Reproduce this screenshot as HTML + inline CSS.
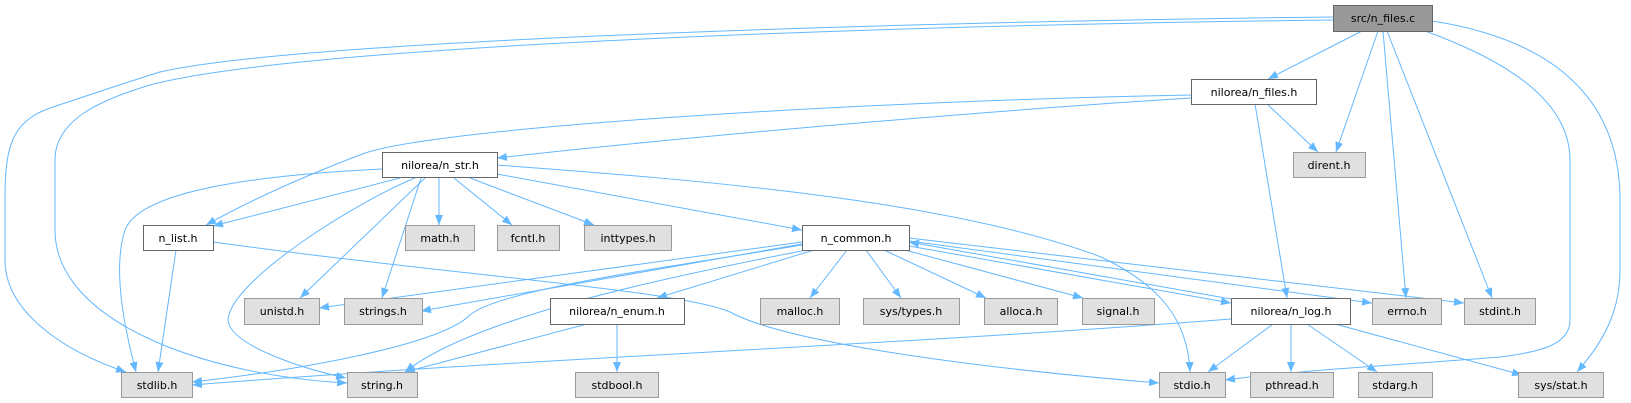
<!DOCTYPE html>
<html><head><meta charset="utf-8"><style>
html,body{margin:0;padding:0;background:#fff;}
svg{display:block;}
text{font-family:"DejaVu Sans","Liberation Sans",sans-serif;font-size:11px;fill:#000;text-anchor:middle;}
.w{fill:#fff;stroke:#666;stroke-width:1;}
.g{fill:#e0e0e0;stroke:#999;stroke-width:1;}
.r{fill:#999;stroke:#666;stroke-width:1;}
.e{fill:none;stroke:#63b8ff;stroke-width:1;marker-end:url(#a);}
</style></head><body>
<svg width="1631" height="403" viewBox="0 0 1631 403" xmlns="http://www.w3.org/2000/svg">
<defs><marker id="a" markerUnits="userSpaceOnUse" markerWidth="12" markerHeight="10" refX="10" refY="4" orient="auto"><path d="M0,0 L10,4 L0,8 z" fill="#63b8ff"/></marker></defs>
<!-- edges from src/n_files.c -->
<path class="e" d="M1333,17 C900,22 300,40 160,72 C140,78 110,88 50,108 C10,122 5,150 5,200 L5,260 C5,310 60,350 126,372"/>
<path class="e" d="M1333,20 C900,25 300,45 150,85 C100,100 55,120 55,160 L55,230 C55,320 200,375 347,383"/>
<path class="e" d="M1362,31 L1268,79"/>
<path class="e" d="M1378,31 L1336,152"/>
<path class="e" d="M1383,31 L1406,298"/>
<path class="e" d="M1387,31 L1492,298"/>
<path class="e" d="M1425,31 C1505,60 1570,100 1570,160 L1570,320 C1570,345 1540,352 1500,357 C1400,365 1300,370 1225,380"/>
<path class="e" d="M1432,21 C1555,40 1620,100 1620,200 L1620,270 C1620,310 1605,340 1577,372"/>
<!-- n_files.h -->
<path class="e" d="M1191,95 C900,100 450,125 365,153 C320,170 260,195 206,225"/>
<path class="e" d="M1191,98 C1000,110 700,135 497,158"/>
<path class="e" d="M1267,104 L1318,152"/>
<path class="e" d="M1255,104 L1287,298"/>
<!-- n_str.h -->
<path class="e" d="M382,169 C260,175 140,190 125,230 C112,270 125,330 136,372"/>
<path class="e" d="M400,178 L213,226"/>
<path class="e" d="M425,178 L300,298"/>
<path class="e" d="M415,178 C360,200 230,280 228,320 C230,345 300,368 346,378"/>
<path class="e" d="M421,178 L382,298"/>
<path class="e" d="M439,178 L439,225"/>
<path class="e" d="M454,178 L512,225"/>
<path class="e" d="M470,178 L594,225"/>
<path class="e" d="M497,174 L802,230"/>
<path class="e" d="M497,165 C700,180 950,200 1101,257 C1160,285 1188,320 1190,372"/>
<!-- n_list.h -->
<path class="e" d="M213,242 C450,275 680,290 730,312 C790,345 1000,370 1159,383"/>
<path class="e" d="M176,250 L158,372"/>
<!-- n_common.h -->
<path class="e" d="M802,242 L319,308"/>
<path class="e" d="M802,244 L421,311"/>
<path class="e" d="M802,245 C650,270 500,290 470,315 C440,345 300,370 192,382"/>
<path class="e" d="M807,250 C650,280 470,320 405,372"/>
<path class="e" d="M814,250 L657,298"/>
<path class="e" d="M847,250 L810,298"/>
<path class="e" d="M866,250 L901,298"/>
<path class="e" d="M884,250 L986,298"/>
<path class="e" d="M905,250 L1083,298"/>
<path class="e" d="M909,246 L1231,303"/>
<path class="e" d="M909,241 L1372,303"/>
<path class="e" d="M909,238 L1464,303"/>
<!-- n_log.h -->
<path class="e" d="M1231,299 L909,242"/>
<path class="e" d="M1231,319 C900,345 500,360 192,385"/>
<path class="e" d="M1273,324 L1208,372"/>
<path class="e" d="M1291,324 L1291,372"/>
<path class="e" d="M1307,324 L1377,372"/>
<path class="e" d="M1335,324 L1522,375"/>
<!-- n_enum.h -->
<path class="e" d="M587,324 L405,372"/>
<path class="e" d="M617,324 L617,372"/>

<!-- nodes -->
<rect class="r" x="1333.5" y="5.5" width="99" height="26"/><text x="1383" y="22">src/n_files.c</text>
<rect class="w" x="1191.5" y="79.5" width="125" height="25"/><text x="1254" y="96">nilorea/n_files.h</text>
<rect class="g" x="1293.5" y="152.5" width="72" height="25"/><text x="1329" y="169">dirent.h</text>
<rect class="w" x="382.5" y="152.5" width="115" height="25"/><text x="440" y="169">nilorea/n_str.h</text>
<rect class="w" x="143.5" y="225.5" width="70" height="25"/><text x="178" y="242">n_list.h</text>
<rect class="g" x="405.5" y="225.5" width="69" height="25"/><text x="440" y="242">math.h</text>
<rect class="g" x="497.5" y="225.5" width="62" height="25"/><text x="528" y="242">fcntl.h</text>
<rect class="g" x="584.5" y="225.5" width="87" height="25"/><text x="628" y="242">inttypes.h</text>
<rect class="w" x="802.5" y="225.5" width="107" height="25"/><text x="856" y="242">n_common.h</text>
<rect class="g" x="244.5" y="298.5" width="75" height="26"/><text x="282" y="315">unistd.h</text>
<rect class="g" x="344.5" y="298.5" width="78" height="26"/><text x="383" y="315">strings.h</text>
<rect class="w" x="550.5" y="298.5" width="134" height="26"/><text x="617" y="315">nilorea/n_enum.h</text>
<rect class="g" x="760.5" y="298.5" width="79" height="26"/><text x="800" y="315">malloc.h</text>
<rect class="g" x="863.5" y="298.5" width="96" height="26"/><text x="911" y="315">sys/types.h</text>
<rect class="g" x="984.5" y="298.5" width="73" height="26"/><text x="1021" y="315">alloca.h</text>
<rect class="g" x="1082.5" y="298.5" width="72" height="26"/><text x="1118" y="315">signal.h</text>
<rect class="w" x="1231.5" y="298.5" width="119" height="26"/><text x="1291" y="315">nilorea/n_log.h</text>
<rect class="g" x="1372.5" y="298.5" width="69" height="26"/><text x="1407" y="315">errno.h</text>
<rect class="g" x="1464.5" y="298.5" width="71" height="26"/><text x="1500" y="315">stdint.h</text>
<rect class="g" x="121.5" y="372.5" width="71" height="25"/><text x="157" y="389">stdlib.h</text>
<rect class="g" x="347.5" y="372.5" width="70" height="25"/><text x="382" y="389">string.h</text>
<rect class="g" x="575.5" y="372.5" width="83" height="25"/><text x="617" y="389">stdbool.h</text>
<rect class="g" x="1159.5" y="372.5" width="66" height="25"/><text x="1192" y="389">stdio.h</text>
<rect class="g" x="1250.5" y="372.5" width="83" height="25"/><text x="1292" y="389">pthread.h</text>
<rect class="g" x="1358.5" y="372.5" width="74" height="25"/><text x="1395" y="389">stdarg.h</text>
<rect class="g" x="1518.5" y="372.5" width="85" height="25"/><text x="1561" y="389">sys/stat.h</text>
</svg>
</body></html>
